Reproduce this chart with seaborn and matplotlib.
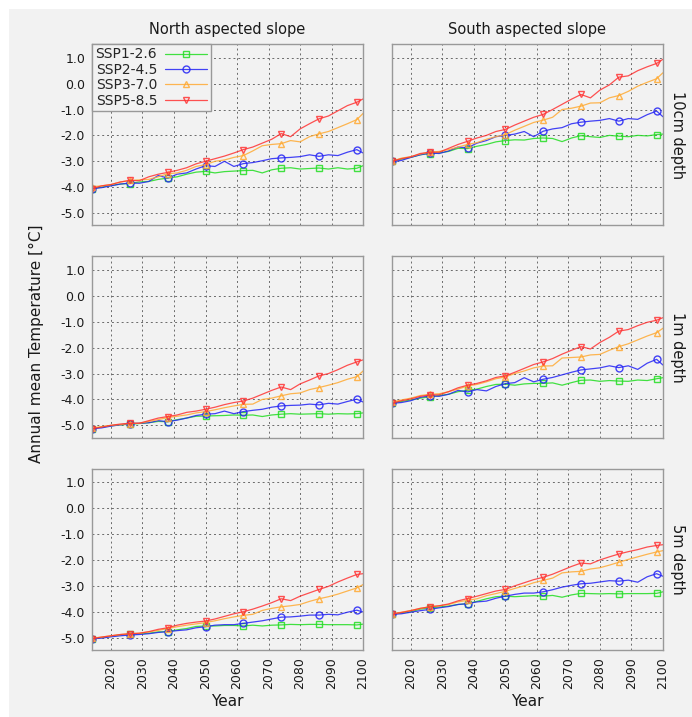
import numpy as np
import pandas as pd
import seaborn as sns
from matplotlib import pyplot as plt
from matplotlib.patches import Rectangle

# years sampled every 3 years, plus the final year
years = list(range(2014, 2099, 3)) + [2100]

scenarios = ["SSP1-2.6", "SSP2-4.5", "SSP3-7.0", "SSP5-8.5"]
colors = ["#22dd22", "#2323f5", "#ffaa33", "#ff3333"]
markers = ["s", "o", "^", "v"]

slopes = ["North aspected slope", "South aspected slope"]
depths = ["10cm depth", "1m depth", "5m depth"]

# north slope, 10 cm
n10_ssp126 = [-4.06, -4.0, -3.93, -3.88, -3.86, -3.8, -3.78, -3.7, -3.65, -3.6, -3.5, -3.42, -3.39, -3.45, -3.4,
              -3.38, -3.36, -3.35, -3.45, -3.33, -3.27, -3.25, -3.3, -3.28, -3.26, -3.3, -3.25, -3.3, -3.27, -3.17]
n10_ssp245 = [-4.06, -4.02, -3.95, -3.88, -3.84, -3.85, -3.78, -3.55, -3.65, -3.5, -3.45, -3.3, -3.17, -3.2, -3.0,
              -3.2, -3.09, -3.05, -2.98, -2.9, -2.87, -2.85, -2.82, -2.75, -2.81, -2.75, -2.78, -2.65, -2.55, -2.68]
n10_ssp370 = [-3.98, -3.95, -3.9, -3.8, -3.74, -3.72, -3.7, -3.6, -3.48, -3.45, -3.35, -3.2, -3.13, -3.0, -2.95,
              -2.85, -2.78, -2.6, -2.4, -2.35, -2.32, -2.2, -2.25, -2.05, -1.94, -1.85, -1.7, -1.55, -1.39, -1.15]
n10_ssp585 = [-4.06, -3.95, -3.9, -3.8, -3.74, -3.75, -3.6, -3.5, -3.43, -3.35, -3.25, -3.1, -3.0, -2.9, -2.8,
              -2.68, -2.55, -2.45, -2.3, -2.15, -1.93, -2.05, -1.75, -1.55, -1.36, -1.25, -1.05, -0.85, -0.72, -0.59]

# south slope, 10 cm
s10_ssp126 = [-3.0, -2.92, -2.85, -2.75, -2.7, -2.68, -2.62, -2.5, -2.51, -2.42, -2.35, -2.25, -2.2, -2.17, -2.18,
              -2.12, -2.1, -2.12, -2.24, -2.1, -2.01, -2.05, -2.08, -2.0, -2.03, -2.05, -2.0, -2.02, -1.97, -1.95]
s10_ssp245 = [-3.0, -2.97, -2.85, -2.75, -2.68, -2.7, -2.6, -2.45, -2.48, -2.3, -2.2, -2.05, -2.0, -1.95, -1.85,
              -2.05, -1.84, -1.75, -1.7, -1.55, -1.49, -1.45, -1.42, -1.35, -1.45, -1.35, -1.38, -1.2, -1.06, -1.28]
s10_ssp370 = [-3.0, -2.88, -2.82, -2.72, -2.65, -2.62, -2.55, -2.45, -2.35, -2.28, -2.15, -2.05, -1.97, -1.8, -1.65,
              -1.5, -1.41, -1.3, -1.0, -0.95, -0.87, -0.75, -0.74, -0.55, -0.46, -0.3, -0.1, 0.05, 0.19, 0.42]
s10_ssp585 = [-3.0, -2.9, -2.83, -2.7, -2.65, -2.65, -2.5, -2.35, -2.23, -2.1, -2.0, -1.85, -1.77, -1.6, -1.45,
              -1.3, -1.19, -1.0, -0.8, -0.6, -0.42, -0.55, -0.25, -0.05, 0.25, 0.3, 0.5, 0.65, 0.78, 0.94]

# north slope, 1 m
n1_ssp126 = [-5.13, -5.07, -5.02, -4.98, -4.96, -4.93, -4.9, -4.85, -4.86, -4.78, -4.72, -4.65, -4.64, -4.63, -4.62,
             -4.6, -4.61, -4.6, -4.66, -4.6, -4.57, -4.55, -4.57, -4.56, -4.55, -4.57, -4.55, -4.56, -4.55, -4.52]
n1_ssp245 = [-5.13, -5.1, -5.03, -4.98, -4.93, -4.92, -4.9, -4.82, -4.86, -4.8, -4.72, -4.62, -4.57, -4.55, -4.45,
             -4.55, -4.47, -4.42, -4.38, -4.3, -4.25, -4.23, -4.22, -4.18, -4.21, -4.15, -4.18, -4.08, -3.99, -4.1]
n1_ssp370 = [-5.1, -5.05, -5.0, -4.97, -4.93, -4.92, -4.85, -4.78, -4.7, -4.65, -4.6, -4.52, -4.47, -4.4, -4.32,
             -4.25, -4.19, -4.18, -4.0, -3.95, -3.86, -3.78, -3.75, -3.62, -3.54, -3.45, -3.35, -3.22, -3.12, -2.9]
n1_ssp585 = [-5.13, -5.07, -5.0, -4.95, -4.92, -4.92, -4.82, -4.72, -4.66, -4.6, -4.5, -4.45, -4.38, -4.3, -4.2,
             -4.12, -4.06, -3.95, -3.8, -3.65, -3.52, -3.62, -3.4, -3.25, -3.09, -3.0, -2.85, -2.68, -2.55, -2.47]

# south slope, 1 m
s1_ssp126 = [-4.15, -4.08, -4.02, -3.95, -3.9, -3.85, -3.8, -3.7, -3.65, -3.6, -3.5, -3.42, -3.41, -3.45, -3.4,
             -3.38, -3.38, -3.36, -3.45, -3.35, -3.26, -3.25, -3.3, -3.27, -3.29, -3.3, -3.25, -3.27, -3.2, -3.16]
s1_ssp245 = [-4.15, -4.12, -4.05, -3.92, -3.86, -3.88, -3.8, -3.65, -3.71, -3.62, -3.67, -3.5, -3.39, -3.35, -3.16,
             -3.32, -3.22, -3.15, -3.05, -2.95, -2.86, -2.82, -2.78, -2.7, -2.77, -2.7, -2.84, -2.6, -2.45, -2.67]
s1_ssp370 = [-4.1, -4.02, -3.95, -3.85, -3.8, -3.78, -3.7, -3.6, -3.48, -3.42, -3.32, -3.2, -3.13, -3.0, -2.9,
             -2.78, -2.71, -2.7, -2.4, -2.38, -2.36, -2.28, -2.26, -2.1, -1.96, -1.85, -1.7, -1.55, -1.42, -1.25]
s1_ssp585 = [-4.15, -4.05, -3.98, -3.88, -3.83, -3.82, -3.7, -3.55, -3.45, -3.38, -3.28, -3.15, -3.09, -2.95, -2.8,
             -2.65, -2.55, -2.42, -2.25, -2.1, -1.96, -2.05, -1.8, -1.6, -1.36, -1.3, -1.15, -1.02, -0.94, -0.84]

# north slope, 5 m
n5_ssp126 = [-5.04, -5.0, -4.95, -4.9, -4.87, -4.85, -4.83, -4.78, -4.77, -4.7, -4.65, -4.57, -4.55, -4.55, -4.53,
             -4.53, -4.55, -4.52, -4.55, -4.52, -4.51, -4.49, -4.5, -4.49, -4.49, -4.5, -4.5, -4.5, -4.51, -4.48]
n5_ssp245 = [-5.04, -5.02, -4.97, -4.93, -4.9, -4.88, -4.85, -4.8, -4.77, -4.73, -4.7, -4.62, -4.58, -4.52, -4.5,
             -4.5, -4.45, -4.4, -4.35, -4.28, -4.21, -4.2, -4.17, -4.13, -4.13, -4.1, -4.12, -4.02, -3.94, -4.01]
n5_ssp370 = [-5.02, -4.98, -4.93, -4.88, -4.85, -4.83, -4.78, -4.72, -4.65, -4.58, -4.52, -4.47, -4.42, -4.35, -4.27,
             -4.2, -4.14, -4.1, -3.95, -3.87, -3.81, -3.77, -3.72, -3.6, -3.5, -3.42, -3.32, -3.2, -3.08, -2.95]
n5_ssp585 = [-5.04, -4.98, -4.93, -4.88, -4.85, -4.83, -4.77, -4.68, -4.62, -4.52, -4.45, -4.4, -4.36, -4.28, -4.18,
             -4.08, -4.0, -3.9, -3.78, -3.65, -3.5, -3.57, -3.4, -3.27, -3.14, -3.02, -2.85, -2.7, -2.56, -2.53]

# south slope, 5 m
s5_ssp126 = [-4.1, -4.05, -4.0, -3.9, -3.85, -3.82, -3.78, -3.72, -3.69, -3.6, -3.5, -3.42, -3.4, -3.42, -3.4,
             -3.38, -3.4, -3.37, -3.44, -3.35, -3.29, -3.3, -3.31, -3.3, -3.31, -3.3, -3.3, -3.3, -3.29, -3.23]
s5_ssp245 = [-4.1, -4.08, -4.02, -3.96, -3.91, -3.85, -3.8, -3.72, -3.69, -3.62, -3.59, -3.48, -3.4, -3.33, -3.28,
             -3.28, -3.23, -3.15, -3.05, -2.98, -2.92, -2.9, -2.85, -2.8, -2.82, -2.78, -2.86, -2.65, -2.53, -2.63]
s5_ssp370 = [-4.08, -4.02, -3.95, -3.87, -3.81, -3.77, -3.72, -3.62, -3.56, -3.5, -3.38, -3.3, -3.21, -3.1, -3.0,
             -2.88, -2.79, -2.7, -2.5, -2.46, -2.44, -2.35, -2.3, -2.2, -2.09, -1.98, -1.88, -1.78, -1.69, -1.64]
s5_ssp585 = [-4.1, -4.03, -3.96, -3.87, -3.81, -3.77, -3.7, -3.58, -3.49, -3.4, -3.3, -3.2, -3.14, -3.0, -2.88,
             -2.76, -2.67, -2.55, -2.4, -2.25, -2.12, -2.15, -2.0, -1.88, -1.77, -1.68, -1.6, -1.5, -1.44, -1.41]

panels = [
    [[n10_ssp126, n10_ssp245, n10_ssp370, n10_ssp585], [s10_ssp126, s10_ssp245, s10_ssp370, s10_ssp585]],
    [[n1_ssp126, n1_ssp245, n1_ssp370, n1_ssp585], [s1_ssp126, s1_ssp245, s1_ssp370, s1_ssp585]],
    [[n5_ssp126, n5_ssp245, n5_ssp370, n5_ssp585], [s5_ssp126, s5_ssp245, s5_ssp370, s5_ssp585]],
]

yticks = [-5.0, -4.0, -3.0, -2.0, -1.0, 0.0, 1.0]
xticks = list(range(2020, 2101, 10))

bg = "#f2f2f2"
sns.set_theme(style="whitegrid")
plt.rcParams["font.family"] = ["DejaVu Sans"]
plt.rcParams["axes.unicode_minus"] = False

fig, axes = plt.subplots(3, 2, figsize=(6.92, 7.17), dpi=100)
fig.patch.set_facecolor("white")
fig.patches.append(Rectangle((9 / 692, 0), 1, 1 - 9 / 717, transform=fig.transFigure,
                             facecolor=bg, edgecolor="none", zorder=-10))
fig.subplots_adjust(left=0.133, right=0.958, top=0.9386, bottom=0.0934, wspace=0.106, hspace=0.17)

for r in range(3):
    for c in range(2):
        ax = axes[r, c]
        ax.set_facecolor(bg)
        df = pd.DataFrame({"Year": years})
        for name, vals, col, mk in zip(scenarios, panels[r][c], colors, markers):
            df[name] = vals
            sns.lineplot(data=df, x="Year", y=name, ax=ax, color=col, lw=0.9, alpha=0.85,
                         marker=mk, markevery=4, ms=5, mfc="none", mec=col, mew=1.0,
                         label=name if (r == 0 and c == 0) else None, legend=(r == 0 and c == 0))
        ax.set_xlim(2014, 2100)
        ax.set_ylim(-5.48, 1.53)
        ax.set_xticks(xticks)
        ax.set_yticks(yticks)
        ax.grid(True, color="#6a6a6a", linestyle=(0, (2, 3)), linewidth=0.7)
        for sp in ax.spines.values():
            sp.set_color("#999999")
            sp.set_linewidth(1.0)
        ax.tick_params(axis="both", labelsize=9, colors="#1a1a1a", length=3, color="#999999",
                       direction="out", pad=2)
        ax.set_ylabel("")
        if c == 0:
            ax.set_yticklabels([f"{v:.1f}" for v in yticks])
        else:
            ax.set_yticklabels([])
        if r == 2:
            ax.set_xticklabels([str(v) for v in xticks], rotation=90)
            ax.set_xlabel("Year", fontsize=11, labelpad=4, color="#1a1a1a")
        else:
            ax.set_xticklabels([])
            ax.set_xlabel("")
        if r == 0:
            ax.set_title(slopes[c], fontsize=10.5, pad=7, color="#1a1a1a")
        if c == 1:
            ax.text(1.055, 0.5, depths[r], transform=ax.transAxes, rotation=270,
                    ha="center", va="center", fontsize=10.5, color="#1a1a1a")

leg = axes[0, 0].legend(loc="upper left", borderaxespad=0, markerfirst=False, fontsize=10,
                        handlelength=3.0, frameon=True, fancybox=False, labelspacing=0.1,
                        borderpad=0.25, handletextpad=0.6)
leg.get_frame().set_facecolor(bg)
leg.get_frame().set_edgecolor("#999999")
leg.get_frame().set_alpha(1.0)

fig.text(0.053, 0.52, "Annual mean Temperature [°C]", rotation=90, ha="center", va="center",
         fontsize=11, color="#1a1a1a")

fig.savefig("out.png", dpi=100, facecolor=fig.get_facecolor())
